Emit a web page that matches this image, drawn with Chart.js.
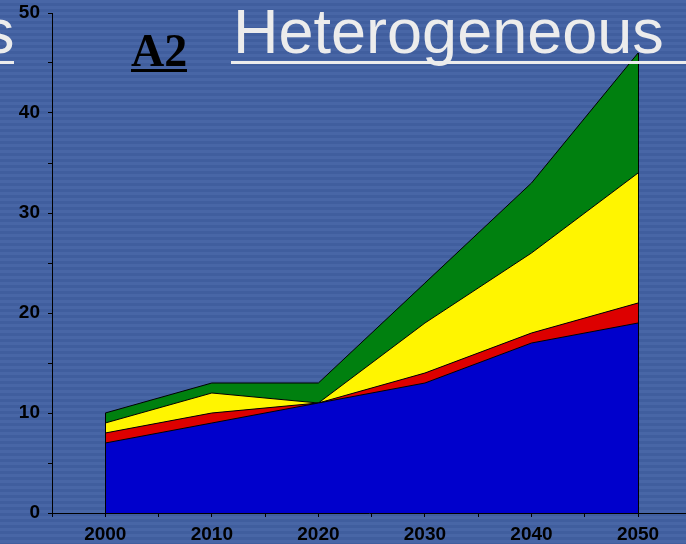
<!DOCTYPE html>
<html>
<head>
<meta charset="utf-8">
<script src="https://cdn.jsdelivr.net/npm/chart.js@4/dist/chart.umd.min.js"></script>
<style>
  html, body { margin: 0; padding: 0; }
  body {
    width: 686px; height: 544px; overflow: hidden; position: relative;
    background: repeating-linear-gradient(to bottom, #4866a6 0px, #4866a6 3px, #405e9e 3px, #405e9e 6px);
  }
  #wrap { position: absolute; left: 0; top: 0; width: 686px; height: 544px; }
  .big { position: absolute; font-family: "Liberation Sans", Arial, sans-serif; font-size: 63px; line-height: 63px; color: #ececec; white-space: nowrap; }
  .rule { position: absolute; height: 3px; background: #ececec; }
  #scen { position: absolute; left: 131px; top: 28px; font-family: "Liberation Serif", "Times New Roman", serif; font-weight: bold; font-size: 46px; line-height: 46px; color: #000; }
  #scenRule { position: absolute; left: 131px; top: 69px; width: 56px; height: 3px; background: #000; }
</style>
</head>
<body>
<div id="wrap"><canvas id="c" width="686" height="544"></canvas></div>
<div class="big" style="left:-17px; top:0px;">s</div>
<div class="rule" style="left:0px; top:61px; width:14px;"></div>
<div id="scen">A2</div>
<div id="scenRule"></div>
<div class="big" style="left:233px; top:0px;">Heterogeneous</div>
<div class="rule" style="left:231px; top:61px; width:455px;"></div>
<script>
// Decades on the horizontal axis
const years = [2000, 2010, 2020, 2030, 2040, 2050];
// Stacked layers, bottom to top
const blueLayer   = [7, 9, 11, 13, 17, 19];
const redLayer    = [1, 1, 0, 1, 1, 2];
const yellowLayer = [1, 2, 0, 5, 8, 13];
const greenLayer  = [1, 1, 2, 4, 7, 12];
// Axis ticks
const yTicks = [0, 5, 10, 15, 20, 25, 30, 35, 40, 45, 50];
const xTicks = [1995, 2000, 2005, 2010, 2015, 2020, 2025, 2030, 2035, 2040, 2045, 2050];

const layers = [
  { name: 'blue',   values: blueLayer,   color: '#0000cc' },
  { name: 'red',    values: redLayer,    color: '#dd0000' },
  { name: 'yellow', values: yellowLayer, color: '#fff500' },
  { name: 'green',  values: greenLayer,  color: '#00800f' }
];

const datasets = layers.map((l, i) => ({
  label: l.name,
  data: years.map((yr, k) => ({ x: yr, y: l.values[k] })),
  backgroundColor: l.color,
  borderColor: '#000',
  borderWidth: 1,
  pointRadius: 0,
  tension: 0,
  fill: i === 0 ? 'origin' : '-1'
}));

// Closes the stacked area at its first and last year with a vertical outline
const edgeOutline = {
  id: 'edgeOutline',
  afterDatasetsDraw(chart) {
    const xs = chart.scales.x, ys = chart.scales.y, ctx = chart.ctx;
    const ends = [0, years.length - 1];
    ctx.save();
    ctx.strokeStyle = '#000';
    ctx.lineWidth = 1;
    ends.forEach(k => {
      const total = layers.reduce((s, l) => s + l.values[k], 0);
      const px = Math.round(xs.getPixelForValue(years[k])) + 0.5;
      ctx.beginPath();
      ctx.moveTo(px, ys.getPixelForValue(0));
      ctx.lineTo(px, ys.getPixelForValue(total));
      ctx.stroke();
    });
    ctx.restore();
  }
};

const tickFont = { family: '"Liberation Sans", Arial, sans-serif', size: 19, weight: 'bold' };

new Chart(document.getElementById('c'), {
  type: 'line',
  data: { datasets },
  plugins: [edgeOutline],
  options: {
    responsive: false,
    animation: false,
    layout: { padding: { top: 13, right: 0, left: 0, bottom: 0 } },
    plugins: { legend: { display: false }, tooltip: { enabled: false } },
    scales: {
      x: {
        type: 'linear',
        min: 1995,
        max: 2054.5,
        afterBuildTicks(scale) { scale.ticks = xTicks.map(v => ({ value: v })); },
        afterFit(scale) { scale.height = 31; scale.paddingLeft = 0; scale.paddingRight = 0; },
        border: { display: true, color: '#000', width: 1 },
        grid: { drawOnChartArea: false, drawTicks: true, tickLength: 4, tickColor: '#000' },
        ticks: {
          autoSkip: false, maxRotation: 0, color: '#000', font: tickFont, padding: 6,
          callback: v => (years.includes(v) ? String(v) : '')
        }
      },
      y: {
        stacked: true,
        min: 0,
        max: 50,
        afterBuildTicks(scale) { scale.ticks = yTicks.map(v => ({ value: v })); },
        afterFit(scale) { scale.width = 52; scale.paddingTop = 0; scale.paddingBottom = 0; },
        border: { display: true, color: '#000', width: 1 },
        grid: { drawOnChartArea: false, drawTicks: true, tickLength: 4, tickColor: '#000' },
        ticks: {
          color: '#000', font: tickFont, padding: 8,
          callback: v => (v % 10 === 0 ? String(v) : '')
        }
      }
    }
  }
});
</script>
</body>
</html>
